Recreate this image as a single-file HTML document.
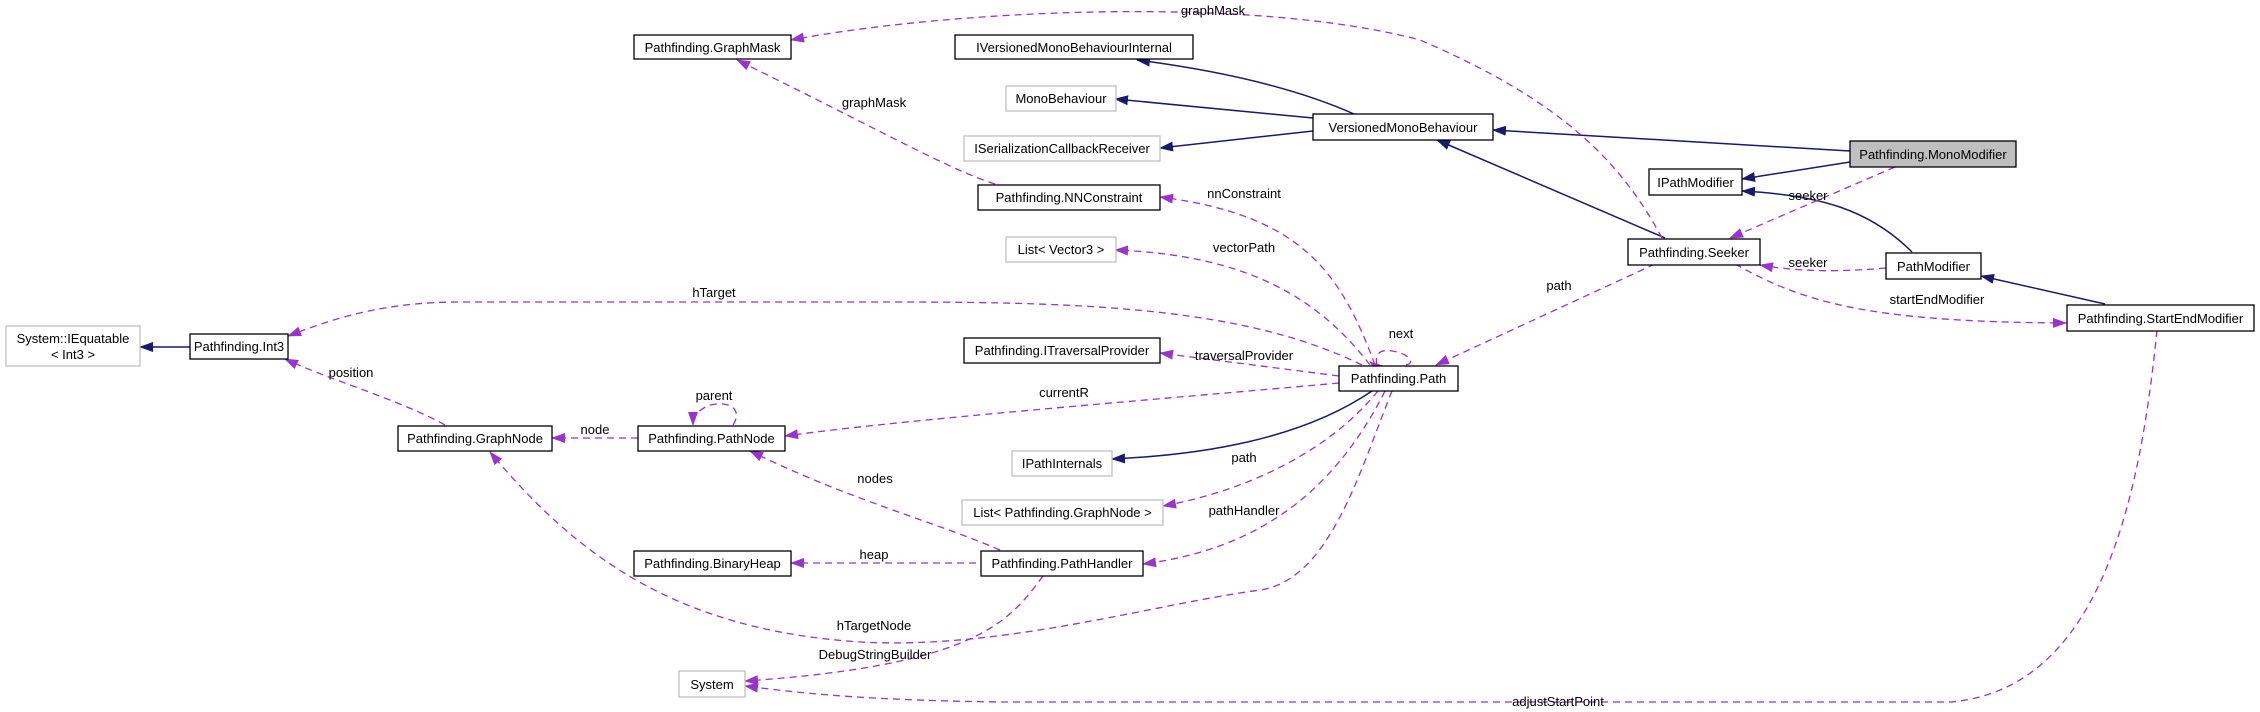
<!DOCTYPE html>
<html><head><meta charset="utf-8"><style>
html,body{margin:0;padding:0;background:#fff;}
svg{display:block;}
text{font-family:"Liberation Sans",sans-serif;font-size:13px;fill:#000;}
.n{fill:#fff;stroke:#000;stroke-width:1.3;}
.g{fill:#fff;stroke:#bfbfbf;stroke-width:1.3;}
.nv{fill:none;stroke:#191970;stroke-width:1.5;}
.pu{fill:none;stroke:#9a32cd;stroke-width:1.3;stroke-dasharray:7,5;}
</style></head><body>
<svg width="2260" height="712" viewBox="0 0 2260 712" xmlns="http://www.w3.org/2000/svg">
<defs>
<marker id="an" markerWidth="14" markerHeight="10" refX="13" refY="5" orient="auto" markerUnits="userSpaceOnUse"><path d="M0,0 L14,5 L0,10 z" fill="#191970"/></marker>
<marker id="ap" markerWidth="14" markerHeight="10" refX="13" refY="5" orient="auto" markerUnits="userSpaceOnUse"><path d="M0,0 L14,5 L0,10 z" fill="#9a32cd"/></marker>
</defs>

<g class="nv">
<path d="M1354,114 C1300,90 1230,72 1137,60" marker-end="url(#an)"/>
<path d="M1313,118 L1115,99" marker-end="url(#an)"/>
<path d="M1313,131 L1160,148" marker-end="url(#an)"/>
<path d="M1850,151 L1493,130" marker-end="url(#an)"/>
<path d="M1850,162 L1742,179" marker-end="url(#an)"/>
<path d="M1665,238 L1437,140" marker-end="url(#an)"/>
<path d="M1912,252 C1870,210 1820,195 1742,191" marker-end="url(#an)"/>
<path d="M2105,304 L1981,276" marker-end="url(#an)"/>
<path d="M190,347 L140,347" marker-end="url(#an)"/>
<path d="M1372,391 C1300,440 1200,455 1112,459" marker-end="url(#an)"/>
</g>

<g class="pu">
<path d="M1662,238 C1620,160 1560,100 1420,40 C1250,-5 950,10 791,40" marker-end="url(#ap)"/>
<path d="M995,184 C950,170 880,130 737,60" marker-end="url(#ap)"/>
<path d="M1375,365 C1340,270 1300,215 1160,197" marker-end="url(#ap)"/>
<path d="M1370,365 C1320,300 1250,255 1115,250" marker-end="url(#ap)"/>
<path d="M1362,365 C1250,310 1100,302 900,302 L460,302 C380,302 330,320 288,336" marker-end="url(#ap)"/>
<path d="M1339,376 L1160,353" marker-end="url(#ap)"/>
<path d="M1339,383 C1150,400 900,420 785,436" marker-end="url(#ap)"/>
<path d="M1377,365 C1372,345 1395,350 1405,355 C1415,362 1410,365 1403,365"/>
<path d="M1374,365 L1370,362" marker-end="url(#ap)"/>
<path d="M1378,391 C1330,450 1250,490 1163,506" marker-end="url(#ap)"/>
<path d="M1385,391 C1330,500 1250,550 1143,564" marker-end="url(#ap)"/>
<path d="M1392,391 C1360,470 1330,580 1260,590 C1150,605 1000,650 860,642 C680,630 580,560 490,452" marker-end="url(#ap)"/>
<path d="M1655,264 L1436,365" marker-end="url(#ap)"/>
<path d="M1895,167 L1730,238" marker-end="url(#ap)"/>
<path d="M1886,268 C1840,272 1800,272 1760,265" marker-end="url(#ap)"/>
<path d="M1735,264 C1800,300 1860,322 2066,323" marker-end="url(#ap)"/>
<path d="M2157,330 C2140,500 2100,690 1950,702 L1000,702 C860,700 800,693 745,686" marker-end="url(#ap)"/>
<path d="M1043,576 C1010,620 980,665 745,681" marker-end="url(#ap)"/>
<path d="M976,563 L791,563" marker-end="url(#ap)"/>
<path d="M1000,550 C930,520 850,500 750,451" marker-end="url(#ap)"/>
<path d="M638,438 L552,438" marker-end="url(#ap)"/>
<path d="M733,425 C742,412 733,400 710,405 C697,410 693,418 693,425" marker-end="url(#ap)"/>
<path d="M445,425 C400,400 330,380 285,359" marker-end="url(#ap)"/>
</g>

<rect class="n" x="634" y="35" width="157" height="24"/><text x="712.5" y="52" text-anchor="middle">Pathfinding.GraphMask</text>
<rect class="n" x="955" y="35" width="238" height="24"/><text x="1074" y="52" text-anchor="middle">IVersionedMonoBehaviourInternal</text>
<rect class="g" x="1006" y="86" width="110" height="25"/><text x="1061" y="103" text-anchor="middle">MonoBehaviour</text>
<rect class="g" x="964" y="136" width="196" height="25"/><text x="1062" y="153" text-anchor="middle">ISerializationCallbackReceiver</text>
<rect class="n" x="1313" y="114" width="180" height="26"/><text x="1403" y="132" text-anchor="middle">VersionedMonoBehaviour</text>
<rect x="1850" y="141" width="166" height="26" fill="#bfbfbf" stroke="#000" stroke-width="1.3"/><text x="1933" y="159" text-anchor="middle">Pathfinding.MonoModifier</text>
<rect class="n" x="1649" y="169" width="93" height="26"/><text x="1695.5" y="187" text-anchor="middle">IPathModifier</text>
<rect class="n" x="978" y="185" width="182" height="25"/><text x="1069" y="202" text-anchor="middle">Pathfinding.NNConstraint</text>
<rect class="n" x="1628" y="239" width="132" height="26"/><text x="1694" y="257" text-anchor="middle">Pathfinding.Seeker</text>
<rect class="n" x="1886" y="253" width="95" height="26"/><text x="1933.5" y="271" text-anchor="middle">PathModifier</text>
<rect class="g" x="1006" y="237" width="110" height="25"/><text x="1061" y="254" text-anchor="middle">List&lt; Vector3 &gt;</text>
<rect class="n" x="2067" y="305" width="187" height="26"/><text x="2160.5" y="323" text-anchor="middle">Pathfinding.StartEndModifier</text>
<rect class="g" x="6" y="326" width="134" height="40"/><text x="73" y="343" text-anchor="middle">System::IEquatable</text><text x="73" y="359" text-anchor="middle">&lt; Int3 &gt;</text>
<rect class="n" x="190" y="334" width="98" height="25"/><text x="239" y="351" text-anchor="middle">Pathfinding.Int3</text>
<rect class="n" x="964" y="338" width="196" height="25"/><text x="1062" y="355" text-anchor="middle">Pathfinding.ITraversalProvider</text>
<rect class="n" x="1339" y="366" width="119" height="25"/><text x="1398.5" y="383" text-anchor="middle">Pathfinding.Path</text>
<rect class="n" x="398" y="426" width="154" height="25"/><text x="475" y="443" text-anchor="middle">Pathfinding.GraphNode</text>
<rect class="n" x="638" y="426" width="147" height="25"/><text x="711.5" y="443" text-anchor="middle">Pathfinding.PathNode</text>
<rect class="g" x="1012" y="451" width="100" height="25"/><text x="1062" y="468" text-anchor="middle">IPathInternals</text>
<rect class="g" x="962" y="500" width="201" height="25"/><text x="1062.5" y="517" text-anchor="middle">List&lt; Pathfinding.GraphNode &gt;</text>
<rect class="n" x="634" y="551" width="157" height="25"/><text x="712.5" y="568" text-anchor="middle">Pathfinding.BinaryHeap</text>
<rect class="n" x="981" y="551" width="162" height="25"/><text x="1062" y="568" text-anchor="middle">Pathfinding.PathHandler</text>
<rect class="g" x="679" y="671" width="66" height="26"/><text x="712" y="689" text-anchor="middle">System</text>

<g text-anchor="middle">
<text x="1213" y="15">graphMask</text>
<text x="874" y="107">graphMask</text>
<text x="1244" y="198">nnConstraint</text>
<text x="1244" y="252">vectorPath</text>
<text x="714" y="297">hTarget</text>
<text x="1244" y="360">traversalProvider</text>
<text x="1064" y="397">currentR</text>
<text x="1401" y="338">next</text>
<text x="714" y="400">parent</text>
<text x="595" y="434">node</text>
<text x="351" y="377">position</text>
<text x="1244" y="462">path</text>
<text x="1244" y="515">pathHandler</text>
<text x="875" y="483">nodes</text>
<text x="874" y="559">heap</text>
<text x="874" y="630">hTargetNode</text>
<text x="875" y="659">DebugStringBuilder</text>
<text x="1559" y="290">path</text>
<text x="1808" y="200">seeker</text>
<text x="1808" y="267">seeker</text>
<text x="1937" y="304">startEndModifier</text>
<text x="1558" y="706">adjustStartPoint</text>
</g>
</svg>
</body></html>
